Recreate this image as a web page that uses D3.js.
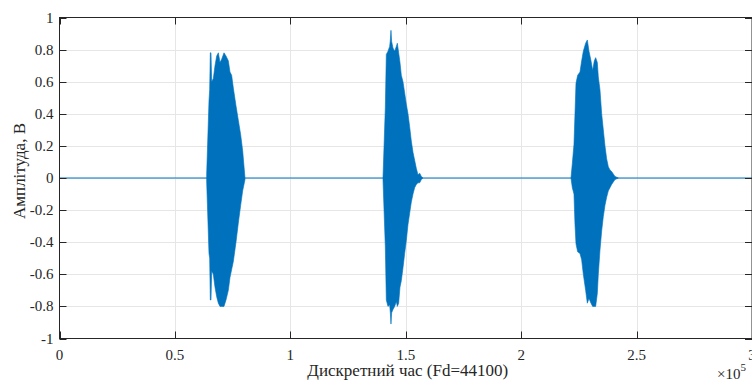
<!DOCTYPE html>
<html>
<head>
<meta charset="utf-8">
<script src="https://cdn.jsdelivr.net/npm/d3@7"></script>
<style>
  body { margin: 0; background: #fff; }
  svg { display: block; }
  text { font-family: "Liberation Serif", "Times New Roman", serif; fill: #262626; }
</style>
</head>
<body>
<svg id="chart" width="752" height="383"></svg>
<script>
// axis ticks
const xTicks = [0, 50000, 100000, 150000, 200000, 250000, 300000];
const xTickLabels = ['0', '0.5', '1', '1.5', '2', '2.5', '3'];
const yTicks = [-1, -0.8, -0.6, -0.4, -0.2, 0, 0.2, 0.4, 0.6, 0.8, 1];
const yTickLabels = ['-1', '-0.8', '-0.6', '-0.4', '-0.2', '0', '0.2', '0.4', '0.6', '0.8', '1'];

// signal: silence between words (sample range, amplitude 0)
const silenceX = [0, 300000];

// envelopes of the three bursts (sample index, upper / lower amplitude)
const burst1X = [63750, 64760, 65050, 65340, 65630, 65920, 66640, 67360, 68090, 68810, 69530, 70250,
  71260, 72130, 73140, 73860, 74580, 75310, 76460, 77470, 78480, 79350, 80360];
const burst1Upper = [0.02, 0.48, 0.55, 0.78, 0.78, 0.60, 0.62, 0.70, 0.76, 0.78, 0.72, 0.74,
  0.78, 0.76, 0.73, 0.66, 0.64, 0.56, 0.45, 0.36, 0.27, 0.17, 0.0];
const burst1Lower = [-0.02, -0.47, -0.50, -0.76, -0.76, -0.58, -0.60, -0.68, -0.74, -0.78, -0.80, -0.80,
  -0.80, -0.76, -0.70, -0.62, -0.57, -0.52, -0.40, -0.28, -0.17, -0.08, -0.01];

const burst2X = [140140, 141150, 141580, 142300, 143030, 143320, 143600, 143890, 144470, 145190, 145920,
  146350, 146930, 147500, 148080, 148800, 149530, 150250, 150970, 151690, 152410, 153140, 153860,
  154580, 155300, 156030, 156750, 157470];
const burst2Upper = [0.0, 0.44, 0.77, 0.79, 0.82, 0.86, 0.92, 0.85, 0.81, 0.79, 0.82,
  0.84, 0.78, 0.72, 0.64, 0.60, 0.53, 0.46, 0.40, 0.32, 0.23, 0.16, 0.11,
  0.06, 0.02, 0.03, 0.01, 0.0];
const burst2Lower = [-0.01, -0.43, -0.76, -0.80, -0.79, -0.84, -0.91, -0.84, -0.82, -0.80, -0.77,
  -0.80, -0.78, -0.68, -0.64, -0.56, -0.47, -0.39, -0.29, -0.22, -0.15, -0.10, -0.06,
  -0.04, -0.03, -0.03, -0.01, 0.0];

const burst3X = [221580, 222160, 222880, 223315, 223750, 224470, 225480, 226200, 226925, 227930,
  228660, 229380, 230250, 230970, 231690, 232270, 232990, 233420, 234140, 234870, 235590,
  236310, 237030, 237760, 238480, 239200, 240640, 242090];
const burst3Upper = [0.0, 0.09, 0.21, 0.40, 0.59, 0.64, 0.66, 0.73, 0.79, 0.84,
  0.86, 0.79, 0.73, 0.67, 0.73, 0.75, 0.72, 0.63, 0.55, 0.40, 0.30,
  0.20, 0.12, 0.07, 0.05, 0.04, 0.01, 0.0];
const burst3Lower = [0.0, -0.06, -0.10, -0.29, -0.41, -0.46, -0.47, -0.51, -0.60, -0.70,
  -0.78, -0.75, -0.78, -0.80, -0.80, -0.80, -0.72, -0.60, -0.45, -0.33, -0.24,
  -0.17, -0.12, -0.08, -0.06, -0.04, -0.01, 0.0];

const bursts = [
  { x: burst1X, upper: burst1Upper, lower: burst1Lower },
  { x: burst2X, upper: burst2Upper, lower: burst2Lower },
  { x: burst3X, upper: burst3Upper, lower: burst3Lower }
];

const plotLeft = 59.5, plotRight = 752, plotTop = 17.5, plotBottom = 338.5;
const lineColor = '#0072BD';
const axisColor = '#262626';
const gridColor = '#e6e6e6';
const tickLen = 7;

const svg = d3.select('#chart');

const x = d3.scaleLinear().domain([0, 300000]).range([plotLeft, plotRight]);
const y = d3.scaleLinear().domain([-1, 1]).range([plotBottom, plotTop]);

// grid
const grid = svg.append('g');
grid.selectAll('line.gx')
  .data(xTicks.slice(1, -1))
  .join('line')
  .attr('x1', d => Math.round(x(d)) + 0.5)
  .attr('x2', d => Math.round(x(d)) + 0.5)
  .attr('y1', plotTop)
  .attr('y2', plotBottom)
  .attr('stroke', gridColor)
  .attr('stroke-width', 1);
grid.selectAll('line.gy')
  .data(yTicks.slice(1, -1))
  .join('line')
  .attr('x1', plotLeft)
  .attr('x2', plotRight)
  .attr('y1', d => Math.round(y(d)) + 0.5)
  .attr('y2', d => Math.round(y(d)) + 0.5)
  .attr('stroke', gridColor)
  .attr('stroke-width', 1);

// signal
const plot = svg.append('g');
plot.append('path')
  .datum(silenceX)
  .attr('d', d3.line().x(d => x(d)).y(() => y(0)))
  .attr('fill', 'none')
  .attr('stroke', lineColor)
  .attr('stroke-width', 1);

const area = d3.area()
  .x(d => x(d.x))
  .y0(d => y(d.lo))
  .y1(d => y(d.hi));

bursts.forEach(b => {
  const pts = b.x.map((v, i) => ({ x: v, hi: b.upper[i], lo: b.lower[i] }));
  plot.append('path')
    .datum(pts)
    .attr('d', area)
    .attr('fill', lineColor)
    .attr('stroke', lineColor)
    .attr('stroke-width', 0.6);
});

// box
svg.append('rect')
  .attr('x', plotLeft)
  .attr('y', plotTop)
  .attr('width', plotRight - plotLeft)
  .attr('height', plotBottom - plotTop)
  .attr('fill', 'none')
  .attr('stroke', axisColor)
  .attr('stroke-width', 1);

// ticks on all four sides, pointing inward
const ticks = svg.append('g').attr('stroke', axisColor).attr('stroke-width', 1);
xTicks.forEach(t => {
  const px = Math.round(x(t)) + 0.5;
  ticks.append('line').attr('x1', px).attr('x2', px).attr('y1', plotBottom).attr('y2', plotBottom - tickLen);
  ticks.append('line').attr('x1', px).attr('x2', px).attr('y1', plotTop).attr('y2', plotTop + tickLen);
});
yTicks.forEach(t => {
  const py = Math.round(y(t)) + 0.5;
  ticks.append('line').attr('x1', plotLeft).attr('x2', plotLeft + tickLen).attr('y1', py).attr('y2', py);
  ticks.append('line').attr('x1', plotRight).attr('x2', plotRight - tickLen).attr('y1', py).attr('y2', py);
});

// tick labels
svg.append('g').selectAll('text')
  .data(xTicks)
  .join('text')
  .attr('x', d => x(d))
  .attr('y', plotBottom + 21)
  .attr('text-anchor', 'middle')
  .style('font-size', '15px')
  .text((d, i) => xTickLabels[i]);

svg.append('g').selectAll('text')
  .data(yTicks)
  .join('text')
  .attr('x', plotLeft - 6)
  .attr('y', d => y(d) + 5)
  .attr('text-anchor', 'end')
  .style('font-size', '15px')
  .text((d, i) => yTickLabels[i]);

// exponent
const expo = svg.append('text')
  .attr('x', 746)
  .attr('y', 379)
  .attr('text-anchor', 'end')
  .style('font-size', '15px');
expo.append('tspan').text('\u00d710');
expo.append('tspan').attr('dy', -8).style('font-size', '11px').text('5');

// axis labels
svg.append('text')
  .attr('x', (plotLeft + plotRight) / 2 + 2)
  .attr('y', 376)
  .attr('text-anchor', 'middle')
  .style('font-size', '17px')
  .text('Дискретний час (Fd=44100)');

svg.append('text')
  .attr('transform', `translate(25,${(plotTop + plotBottom) / 2 - 7}) rotate(-90)`)
  .attr('text-anchor', 'middle')
  .style('font-size', '17px')
  .text('Амплітуда, В');
</script>
</body>
</html>
